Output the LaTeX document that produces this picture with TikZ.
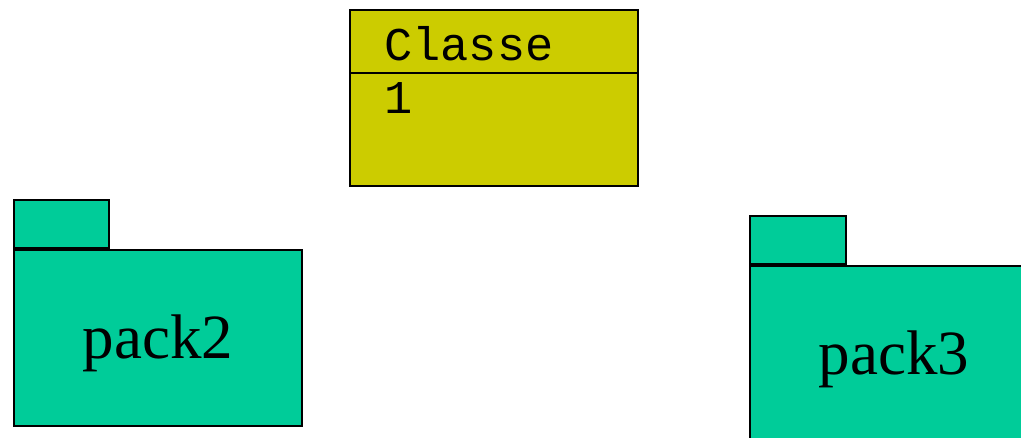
\documentclass[tikz,border=0pt]{standalone}
\usepackage{fontspec}
\setmainfont{Liberation Serif}
\setmonofont{Liberation Mono}
\usepackage{xcolor}
\definecolor{classyellow}{HTML}{CCCC00}
\definecolor{packgreen}{HTML}{00CC99}
\usepackage{tikz}
\usetikzlibrary{positioning}

\begin{document}
\begin{tikzpicture}[x=1pt, y=-1pt,
  classbox/.style={draw, line width=1.8pt, fill=classyellow, minimum width=288pt, minimum height=176pt, anchor=north west, inner sep=0pt},
  packbody/.style={draw, line width=1.8pt, fill=packgreen, minimum width=288pt, minimum height=176pt, anchor=north west, inner sep=0pt, font=\fontsize{63}{70}\selectfont, text height=46pt, text depth=4pt},
  packtab/.style={draw, line width=1.8pt, fill=packgreen, minimum width=95pt, minimum height=48pt, anchor=south west, inner sep=0pt},
  monotext/.style={font=\ttfamily\fontsize{47}{50}\selectfont, anchor=base west, inner sep=0pt}]
  \useasboundingbox (0,0) rectangle (1021,437);
  \clip (0,0) rectangle (1021,437);

  % Class with its two compartments
  \node[classbox] (classe) at (349,9) {};
  \draw[line width=1.8pt] ([yshift=-64pt]classe.north west) -- ([yshift=-64pt]classe.north east);
  \node[monotext] (classname) at (384,60) {Classe};
  \node[monotext] (classattr) at (384,113) {1};

  % Package pack2
  \node[packbody] (pack2) at (13,249) {pack2};
  \node[packtab] (pack2tab) at (pack2.north west) {};

  % Package pack3 (runs off the page)
  \node[packbody] (pack3) at (749,265) {pack3};
  \node[packtab, minimum width=96pt] (pack3tab) at (pack3.north west) {};
\end{tikzpicture}
\end{document}
